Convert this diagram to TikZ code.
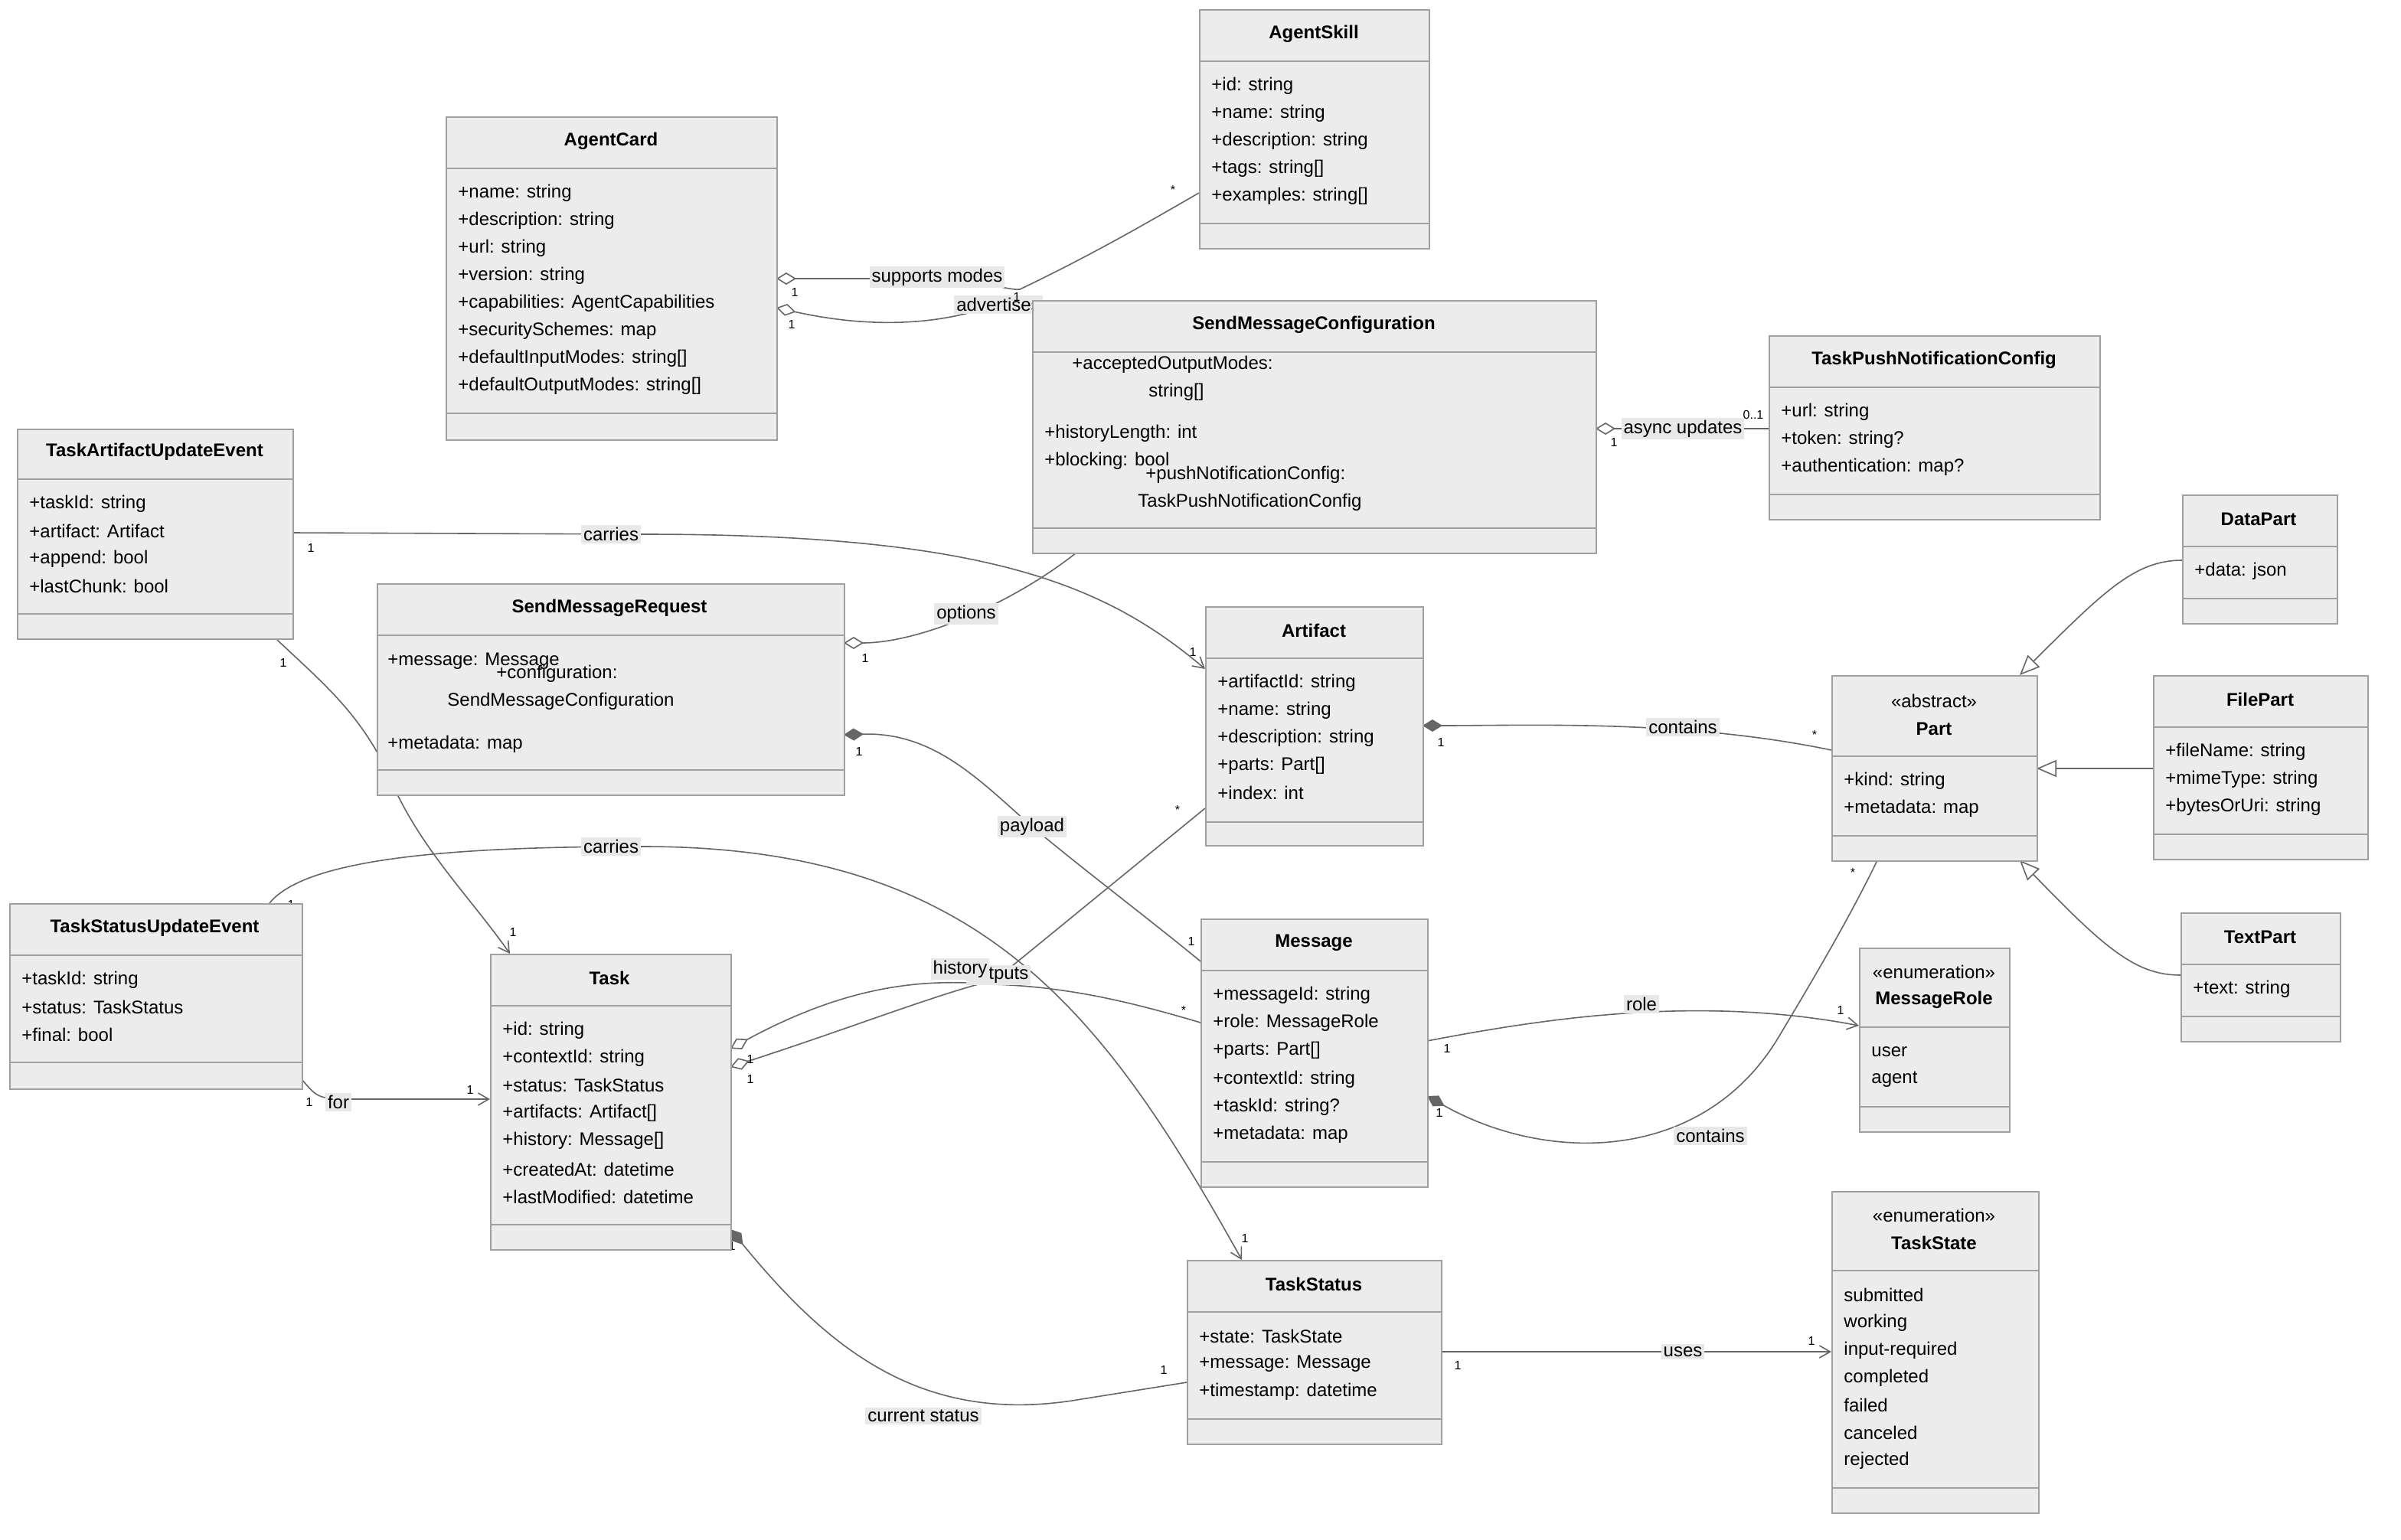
\documentclass[tikz,border=0pt]{standalone}
\usepackage{fontspec}
\setmainfont{Liberation Sans}
\usetikzlibrary{arrows.meta}
\definecolor{boxfill}{HTML}{ECECEC}
\definecolor{boxline}{HTML}{A0A0A0}
\definecolor{conn}{HTML}{666666}
\definecolor{lblbg}{HTML}{E8E8E8}
\tikzset{
  cls/.style={draw=boxline, fill=boxfill, line width=0.9pt, inner sep=0pt, anchor=north west},
  sep/.style={draw=boxline, line width=0.9pt},
  attr/.style={anchor=west, inner sep=0pt, font=\fontsize{12}{14}\selectfont},
  ttl/.style={inner sep=0pt, font=\fontsize{12}{14}\selectfont\bfseries},
  st/.style={inner sep=0pt, font=\fontsize{12}{14}\selectfont},
  ln/.style={draw=conn, line width=0.8pt},
  lbl/.style={fill=lblbg, inner sep=1.5pt, font=\fontsize{12}{14}\selectfont},
  mul/.style={inner sep=0pt, font=\fontsize{8}{9}\selectfont},
  odia/.style={{Diamond[open,length=13pt,width=8pt]}-},
  fdia/.style={{Diamond[length=13pt,width=8pt,fill=conn]}-},
  arr/.style={-{Straight Barb[length=7pt,width=8pt]}},
  inh/.style={-{Triangle[open,length=13pt,width=11pt,fill=white]}},
}
\newcommand{\umlcls}[8]{%
  \node[cls, minimum width={(#4-#2)*1pt}, minimum height={(#5-#3)*1pt}] (#1) at (#2,#3) {};
  \draw[sep] (#2,#6) -- (#4,#6);
  \draw[sep] (#2,#7) -- (#4,#7);
}
\begin{document}
\begin{tikzpicture}[x=1pt,y=-1pt]
\useasboundingbox (0,0) rectangle (1568,1006);
\fill[white] (0,0) rectangle (1568,1006);

% ---------- connector end points ----------
\coordinate (acA) at (507,182);
\coordinate (acB) at (507,201);
\coordinate (smcIn) at (720,210);
\coordinate (askIn) at (783,126);
\coordinate (smcR) at (1042,280);
\coordinate (tpncL) at (1155,280);
\coordinate (taueR) at (191,348);
\coordinate (artL) at (787,437);
\coordinate (taueB) at (181,418);
\coordinate (taskT) at (333,623);
\coordinate (smrA) at (551,420);
\coordinate (smcB) at (703,361);
\coordinate (smrB) at (551,480);
\coordinate (msgL1) at (784,628);
\coordinate (tsueT) at (176,590);
\coordinate (tsT) at (811,823);
\coordinate (tsueR) at (197,705);
\coordinate (taskL) at (320,718);
\coordinate (taskA) at (477,685);
\coordinate (msgL2) at (784,668);
\coordinate (taskB) at (477,697);
\coordinate (artL2) at (787,528);
\coordinate (taskC) at (477,803);
\coordinate (tsL) at (775,903);
\coordinate (artR) at (929,474);
\coordinate (partL) at (1196,490);
\coordinate (msgR1) at (932,680);
\coordinate (mrL) at (1214,670);
\coordinate (msgR2) at (932,716);
\coordinate (partB) at (1226,562);
\coordinate (tsR) at (941,883);
\coordinate (tstL) at (1196,883);
\coordinate (dpL) at (1425,366);
\coordinate (partT) at (1319,441);
\coordinate (fpL) at (1406,502);
\coordinate (partR) at (1330,502);
\coordinate (tpL) at (1424,637);
\coordinate (partB2) at (1319,562);

% ---------- connectors ----------
\draw[ln,odia] (acA) -- (612,182) .. controls (640,183) and (660,190) .. (666,189) .. controls (710,168) and (745,148) .. (askIn);
\node[lbl] at (612,181) {supports modes};
\draw[ln,odia] (acB) .. controls (570,215) and (615,212) .. (650,199) -- (smcIn);
\node[lbl] at (652,199) {advertises};
\node[mul] at (519,191) {1};
\node[mul] at (517,212) {1};
\node[mul] at (664,194) {1};
\node[mul] at (766,124) {*};

\draw[ln,odia] (smcR) -- (tpncL);
\node[lbl] at (1099,280) {async updates};
\node[mul] at (1054,289) {1};
\node[mul] at (1145,271) {0..1};

\draw[ln,arr] (taueR) -- (420,349) .. controls (640,349) and (720,380) .. (artL);
\node[lbl] at (399,349) {carries};
\node[mul] at (203,358) {1};
\node[mul] at (779,426) {1};

\draw[ln,arr] (taueB) .. controls (215,450) and (240,470) .. (260,520) .. controls (280,560) and (310,590) .. (taskT);
\node[mul] at (185,433) {1};
\node[mul] at (335,609) {1};

\draw[ln,odia] (smrA) .. controls (600,420) and (660,395) .. (smcB);
\node[lbl] at (631,401) {options};
\node[mul] at (565,430) {1};

\draw[ln,fdia] (smrB) .. controls (610,478) and (640,510) .. (674,540) .. controls (710,570) and (750,600) .. (msgL1);
\node[lbl] at (674,540) {payload};
\node[mul] at (561,491) {1};
\node[mul] at (778,615) {1};

\draw[ln,arr] (tsueT) .. controls (200,560) and (300,553) .. (420,553) .. controls (640,553) and (720,660) .. (tsT);
\node[lbl] at (399,553) {carries};
\node[mul] at (190,591) {1};
\node[mul] at (813,809) {1};

\draw[ln,arr] (tsueR) .. controls (208,718) .. (235,718) -- (taskL);
\node[lbl] at (221,720) {for};
\node[mul] at (202,720) {1};
\node[mul] at (307,712) {1};

\draw[ln,odia] (taskB) .. controls (560,670) and (610,650) .. (650,640) -- (artL2);
\draw[ln,odia] (taskA) .. controls (560,640) and (610,640) .. (650,643) .. controls (700,645) and (740,655) .. (msgL2);
\node[lbl] at (652,637) {outputs};
\node[lbl] at (627,633) {history};
\node[mul] at (490,692) {1};
\node[mul] at (490,705) {1};
\node[mul] at (773,660) {*};
\node[mul] at (769,529) {*};

\draw[ln,fdia] (taskC) .. controls (540,880) and (600,930) .. (700,915) -- (tsL);
\node[lbl] at (603,925) {current status};
\node[mul] at (478,814) {1};
\node[mul] at (760,895) {1};

\draw[ln,fdia] (artR) .. controls (1000,474) and (1100,470) .. (partL);
\node[lbl] at (1099,475) {contains};
\node[mul] at (941,485) {1};
\node[mul] at (1185,480) {*};

\draw[ln,arr] (msgR1) .. controls (1010,665) and (1110,650) .. (mrL);
\node[lbl] at (1072,656) {role};
\node[mul] at (945,685) {1};
\node[mul] at (1202,660) {1};

\draw[ln,fdia] (msgR2) .. controls (1010,760) and (1110,760) .. (1160,680) .. controls (1190,630) and (1210,595) .. (partB);
\node[lbl] at (1117,742) {contains};
\node[mul] at (940,727) {1};
\node[mul] at (1210,570) {*};

\draw[ln,arr] (tsR) -- (tstL);
\node[lbl] at (1099,883) {uses};
\node[mul] at (952,892) {1};
\node[mul] at (1183,876) {1};

\draw[ln,inh] (dpL) .. controls (1395,366) and (1375,385) .. (partT);
\draw[ln,inh] (fpL) -- (partR);
\draw[ln,inh] (tpL) .. controls (1395,637) and (1375,620) .. (partB2);

% ---------- classes ----------
\umlcls{agentskill}{783}{6}{933}{162}{40}{146}{22}
\node[ttl] at (858,22) {AgentSkill};
\node[attr] at (791,56) {+id: string};
\node[attr] at (791,74) {+name: string};
\node[attr] at (791,92) {+description: string};
\node[attr] at (791,110) {+tags: string[]};
\node[attr] at (791,128) {+examples: string[]};

\umlcls{agentcard}{291}{76}{507}{287}{110}{270}{92}
\node[ttl] at (399,92) {AgentCard};
\node[attr] at (299,126) {+name: string};
\node[attr] at (299,144) {+description: string};
\node[attr] at (299,162) {+url: string};
\node[attr] at (299,180) {+version: string};
\node[attr] at (299,198) {+capabilities: AgentCapabilities};
\node[attr] at (299,216) {+securitySchemes: map};
\node[attr] at (299,234) {+defaultInputModes: string[]};
\node[attr] at (299,252) {+defaultOutputModes: string[]};

\umlcls{smc}{674}{196}{1042}{361}{230}{345}{212}
\node[ttl] at (858,212) {SendMessageConfiguration};
\node[attr] at (700,238) {+acceptedOutputModes:};
\node[attr] at (750,256) {string[]};
\node[attr] at (682,283) {+historyLength: int};
\node[attr] at (682,301) {+blocking: bool};
\node[attr] at (748,310) {+pushNotificationConfig:};
\node[attr] at (743,328) {TaskPushNotificationConfig};

\umlcls{tpnc}{1155}{219}{1371}{339}{253}{323}{235}
\node[ttl] at (1263,235) {TaskPushNotificationConfig};
\node[attr] at (1163,269) {+url: string};
\node[attr] at (1163,287) {+token: string?};
\node[attr] at (1163,305) {+authentication: map?};

\umlcls{taue}{11}{280}{191}{417}{313}{401}{295}
\node[ttl] at (101,295) {TaskArtifactUpdateEvent};
\node[attr] at (19,329) {+taskId: string};
\node[attr] at (19,347) {+artifact: Artifact};
\node[attr] at (19,365) {+append: bool};
\node[attr] at (19,383) {+lastChunk: bool};

\umlcls{smr}{246}{381}{551}{519}{415}{503}{397}
\node[ttl] at (398,397) {SendMessageRequest};
\node[attr] at (253,432) {+message: Message};
\node[attr] at (324,440) {+configuration:};
\node[attr] at (292,458) {SendMessageConfiguration};
\node[attr] at (253,486) {+metadata: map};

\umlcls{artifact}{787}{396}{929}{552}{430}{537}{412}
\node[ttl] at (858,412) {Artifact};
\node[attr] at (795,446) {+artifactId: string};
\node[attr] at (795,464) {+name: string};
\node[attr] at (795,482) {+description: string};
\node[attr] at (795,500) {+parts: Part[]};
\node[attr] at (795,518) {+index: int};

\umlcls{datapart}{1425}{323}{1526}{407}{357}{391}{339}
\node[ttl] at (1475,339) {DataPart};
\node[attr] at (1433,373) {+data: json};

\umlcls{part}{1196}{441}{1330}{562}{494}{546}{476}
\node[st] at (1263,458) {«abstract»};
\node[ttl] at (1263,476) {Part};
\node[attr] at (1204,510) {+kind: string};
\node[attr] at (1204,528) {+metadata: map};

\umlcls{filepart}{1406}{441}{1546}{561}{475}{545}{457}
\node[ttl] at (1476,457) {FilePart};
\node[attr] at (1414,491) {+fileName: string};
\node[attr] at (1414,509) {+mimeType: string};
\node[attr] at (1414,527) {+bytesOrUri: string};

\umlcls{textpart}{1424}{596}{1528}{680}{630}{664}{612}
\node[ttl] at (1476,612) {TextPart};
\node[attr] at (1432,646) {+text: string};

\umlcls{tsue}{6}{590}{197}{711}{624}{694}{606}
\node[ttl] at (101,606) {TaskStatusUpdateEvent};
\node[attr] at (14,640) {+taskId: string};
\node[attr] at (14,658) {+status: TaskStatus};
\node[attr] at (14,676) {+final: bool};

\umlcls{task}{320}{623}{477}{816}{657}{800}{639}
\node[ttl] at (398,639) {Task};
\node[attr] at (328,673) {+id: string};
\node[attr] at (328,691) {+contextId: string};
\node[attr] at (328,709) {+status: TaskStatus};
\node[attr] at (328,727) {+artifacts: Artifact[]};
\node[attr] at (328,745) {+history: Message[]};
\node[attr] at (328,764) {+createdAt: datetime};
\node[attr] at (328,782) {+lastModified: datetime};

\umlcls{message}{784}{600}{932}{775}{634}{759}{616}
\node[ttl] at (858,616) {Message};
\node[attr] at (792,650) {+messageId: string};
\node[attr] at (792,668) {+role: MessageRole};
\node[attr] at (792,686) {+parts: Part[]};
\node[attr] at (792,705) {+contextId: string};
\node[attr] at (792,723) {+taskId: string?};
\node[attr] at (792,741) {+metadata: map};

\umlcls{mrole}{1214}{619}{1312}{739}{671}{723}{653}
\node[st] at (1263,635) {«enumeration»};
\node[ttl] at (1263,653) {MessageRole};
\node[attr] at (1222,687) {user};
\node[attr] at (1222,705) {agent};

\umlcls{tstatus}{775}{823}{941}{943}{857}{927}{839}
\node[ttl] at (858,839) {TaskStatus};
\node[attr] at (783,873) {+state: TaskState};
\node[attr] at (783,891) {+message: Message};
\node[attr] at (783,909) {+timestamp: datetime};

\umlcls{tstate}{1196}{778}{1331}{988}{830}{972}{812}
\node[st] at (1263,794) {«enumeration»};
\node[ttl] at (1263,812) {TaskState};
\node[attr] at (1204,846) {submitted};
\node[attr] at (1204,864) {working};
\node[attr] at (1204,882) {input-required};
\node[attr] at (1204,900) {completed};
\node[attr] at (1204,918) {failed};
\node[attr] at (1204,936) {canceled};
\node[attr] at (1204,954) {rejected};
\end{tikzpicture}
\end{document}
